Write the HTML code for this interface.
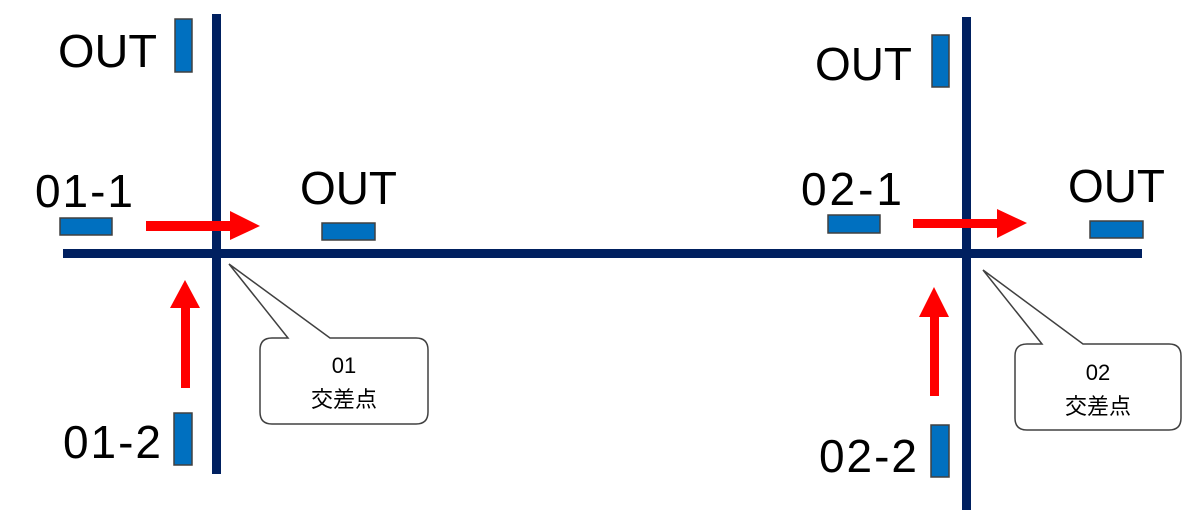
<!DOCTYPE html>
<html><head><meta charset="utf-8"><style>
html,body{margin:0;padding:0;background:#fff;width:1201px;height:520px;overflow:hidden}
svg text{font-family:"Liberation Sans","Noto Sans CJK JP",sans-serif;fill:#000}
</style></head><body>
<svg width="1201" height="520" viewBox="0 0 1201 520">
<g fill="#002060">
<rect x="63" y="249" width="1079" height="9"/>
<rect x="212" y="14" width="9" height="460"/>
<rect x="962" y="17" width="9" height="493"/>
</g>
<g fill="#0070c0" stroke="#404040" stroke-width="1.5">
<rect x="60" y="218" width="52" height="17"/>
<rect x="322" y="223" width="53" height="17"/>
<rect x="174" y="413" width="18" height="52"/>
<rect x="175" y="19" width="17" height="53"/>
<rect x="828" y="215" width="52" height="18"/>
<rect x="1090" y="221" width="53" height="17"/>
<rect x="931" y="425" width="18" height="52"/>
<rect x="932" y="35" width="17" height="52"/>
</g>
<g fill="#ff0000">
<rect x="146" y="221" width="85" height="10"/>
<polygon points="230,211 260,226 230,240"/>
<rect x="181" y="307" width="9" height="81"/>
<polygon points="170,308 185,280 200,308"/>
<rect x="913" y="219" width="86" height="9"/>
<polygon points="997,209 1027,223 997,238"/>
<rect x="930" y="316" width="9" height="80"/>
<polygon points="919,317 934,287 949,317"/>
</g>
<g fill="#fff" stroke="#404040" stroke-width="1.5">
<path d="M272,338 H288 L229,264 L330,338 H416 Q428,338 428,350 V412 Q428,424 416,424 H272 Q260,424 260,412 V350 Q260,338 272,338 Z"/>
<path d="M1027,344 H1042 L983,270 L1083,344 H1169 Q1181,344 1181,356 V418 Q1181,430 1169,430 H1027 Q1015,430 1015,418 V356 Q1015,344 1027,344 Z"/>
</g>
<g font-size="46">
<text x="58" y="67" textLength="99" lengthAdjust="spacingAndGlyphs">OUT</text>
<text x="35" y="207" textLength="98" lengthAdjust="spacing">01-1</text>
<text x="300" y="204" textLength="97" lengthAdjust="spacingAndGlyphs">OUT</text>
<text x="63" y="458" textLength="98" lengthAdjust="spacing">01-2</text>
<text x="815" y="80" textLength="97" lengthAdjust="spacingAndGlyphs">OUT</text>
<text x="801" y="205" textLength="101" lengthAdjust="spacing">02-1</text>
<text x="1068" y="202" textLength="97" lengthAdjust="spacingAndGlyphs">OUT</text>
<text x="819" y="472" textLength="98" lengthAdjust="spacing">02-2</text>
</g>
<g font-size="22" text-anchor="middle">
<text x="344" y="373">01</text>
<text x="344" y="407">交差点</text>
<text x="1098" y="380">02</text>
<text x="1098" y="414">交差点</text>
</g>
</svg>
</body></html>
